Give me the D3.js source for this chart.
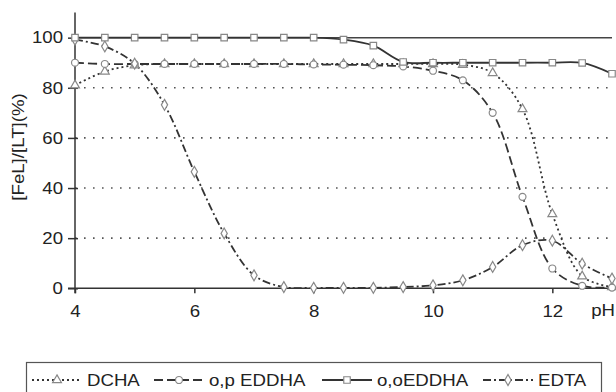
<!DOCTYPE html>
<html><head><meta charset="utf-8">
<script src="https://cdn.jsdelivr.net/npm/d3@7"></script>
<style>body{margin:0;background:#fff}svg{display:block}text{font-family:"Liberation Sans",Arial,sans-serif;fill:#222}</style>
</head><body>
<svg id="c" width="616" height="392"></svg>
<script>
const pH = [4,4.5,5,5.5,6,6.5,7,7.5,8,8.5,9,9.5,10,10.5,11,11.5,12,12.5,13];
const DCHA = [81,86.5,89,89.5,89.5,89.5,89.5,89.5,89.5,89.5,89.5,89.5,89.5,89.2,85.9,71.5,29.6,4.8,0.5];
const opEDDHA = [90,89.5,89.5,89.5,89.5,89.5,89.5,89.5,89.3,89.2,89,88.5,86.8,83,70,36.5,7.9,1,0.3];
const ooEDDHA = [100,100,100,100,100,100,100,100,100,99.2,96.8,90.3,90,90,90,90,90,89.9,85.6];
const EDTA = [99.2,96.5,89.6,73.2,46.5,21.9,5.2,0.5,0.2,0.2,0.2,0.5,1.2,3.2,8.5,17.2,19,9.8,3.9];
const xTicks = [4,6,8,10,12];
const yTicks = [0,20,40,60,80,100];
const seriesNames = ["DCHA","o,p EDDHA","o,oEDDHA","EDTA"];

const svg = d3.select("#c");
const x = d3.scaleLinear().domain([4,13]).range([75,612]);
const y = d3.scaleLinear().domain([0,110]).range([288.3,12.6]);

// gridlines
svg.append("g").selectAll("line").data(yTicks.filter(v=>v>0)).join("line")
  .attr("x1",x(4)).attr("x2",x(13)).attr("y1",d=>y(d)).attr("y2",d=>y(d))
  .attr("stroke",d=>d===100?"#444":"#555")
  .attr("stroke-width",d=>d===100?1.5:1.6)
  .attr("stroke-dasharray",d=>d===100?null:"1.6,7.4");

// axes
const yAxis = d3.axisLeft(y).tickValues(yTicks).tickSizeInner(7).tickSizeOuter(0).tickPadding(5);
const gy = svg.append("g").attr("transform",`translate(${x(4)},0)`).call(yAxis);
gy.selectAll(".tick line").attr("x2",-7).attr("x1",3);
const gx = svg.append("g").attr("transform",`translate(0,${y(0)})`)
  .call(d3.axisBottom(x).tickValues(xTicks).tickSizeInner(5).tickSizeOuter(0).tickPadding(12));
[gx,gy].forEach(g=>{
  g.select(".domain").attr("stroke","#333").attr("stroke-width",1.5);
  g.selectAll(".tick line").attr("stroke","#333").attr("stroke-width",1.5);
  g.selectAll(".tick text").attr("font-size",16.5).attr("fill","#222")
   .style("font-family","'Liberation Sans',Arial,sans-serif");
});
gx.select(".domain").attr("d",`M68,0H${x(13)}`);
gy.select(".domain").attr("d",`M0,${y(110)}V${y(0)+5}`);

svg.append("text").attr("transform","translate(24,147) rotate(-90)")
  .attr("text-anchor","middle").attr("font-size",16.5).text("[FeL]/[LT](%)");
svg.append("text").attr("x",615).attr("y",316).attr("text-anchor","end")
  .attr("font-size",16.5).text("pH");

// series
const dashes = ["2,3","9,4","none","8,3,2,3"];
const shapes = [d3.symbolTriangle,d3.symbolCircle,d3.symbolSquare,d3.symbolDiamond];
const sizes = [34,38,42,34];
const data = [DCHA,opEDDHA,ooEDDHA,EDTA];
const line = d3.line().x((d,i)=>x(pH[i])).y(d=>y(d)).curve(d3.curveCatmullRom.alpha(0.5));
const order=[0,1,3,2];
order.forEach(k=>{
  svg.append("path").attr("d",line(data[k])).attr("fill","none")
    .attr("stroke","#333").attr("stroke-width",1.8)
    .attr("stroke-dasharray",dashes[k]==="none"?null:dashes[k]);
});
order.forEach(k=>{
  svg.append("g").selectAll("path").data(data[k]).join("path")
    .attr("transform",(d,i)=>`translate(${x(pH[i])},${y(d)})`)
    .attr("d",d3.symbol(shapes[k],sizes[k]))
    .attr("fill","#fff").attr("stroke","#888").attr("stroke-width",1.2);
});

// legend
const lg = svg.append("g");
lg.append("rect").attr("x",26.5).attr("y",362.5).attr("width",575).attr("height",36)
  .attr("fill","#fff").attr("stroke","#555").attr("stroke-width",1.2);
const lx = [32,154,322,483];
const ly = 380;
seriesNames.forEach((n,k)=>{
  const g = lg.append("g");
  g.append("line").attr("x1",lx[k]).attr("x2",lx[k]+50).attr("y1",ly).attr("y2",ly)
    .attr("stroke","#333").attr("stroke-width",1.8)
    .attr("stroke-dasharray",dashes[k]==="none"?null:dashes[k]);
  g.append("path").attr("transform",`translate(${lx[k]+25},${ly})`)
    .attr("d",d3.symbol(shapes[k],sizes[k])).attr("fill","#fff").attr("stroke","#888").attr("stroke-width",1.2);
  g.append("text").attr("x",lx[k]+55).attr("y",ly+6).attr("font-size",16.5).text(n);
});

// horizontal stretch of the text to match the reference's wide lettering
svg.selectAll("text").each(function(){
  const w = this.getComputedTextLength();
  if (w>0) { this.setAttribute("textLength", (w*1.13).toFixed(1)); this.setAttribute("lengthAdjust","spacingAndGlyphs"); }
});
</script>
</body></html>
